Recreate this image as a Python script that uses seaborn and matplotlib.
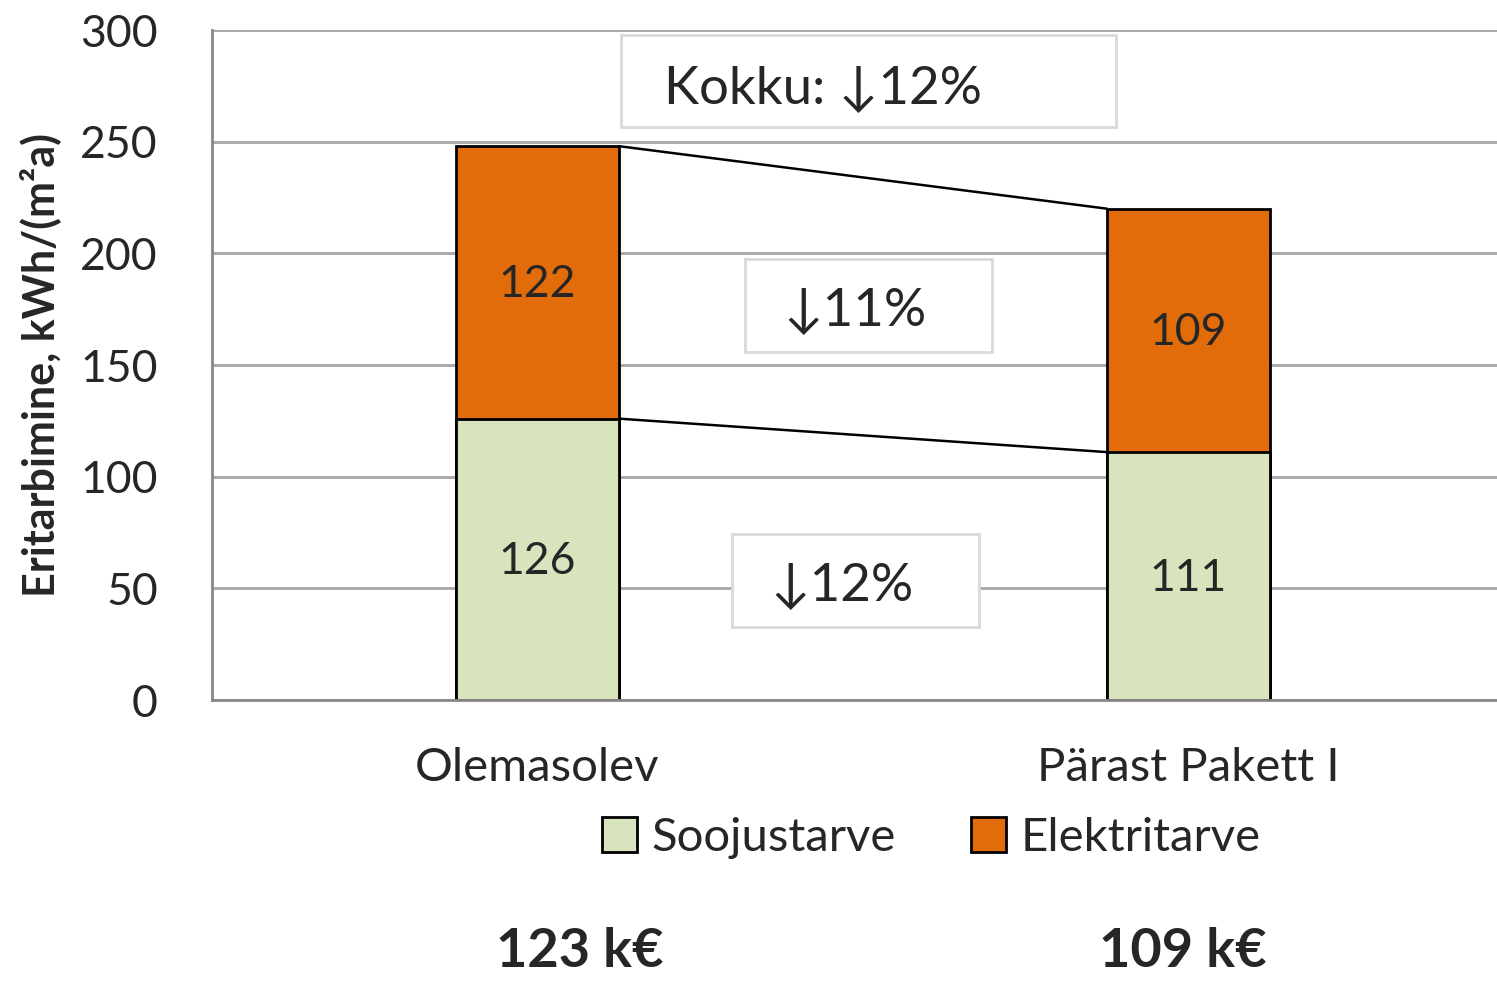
import matplotlib
matplotlib.use("Agg")
import matplotlib.pyplot as plt
from matplotlib.patches import Patch, Rectangle
import pandas as pd
import seaborn as sns

# --- datos ---
categorias = ["Olemasolev", "Pärast Pakett I"]
soojus = [126, 111]
elekter = [122, 109]
kulud = ["123 k€", "109 k€"]
muutus_kokku = "Kokku: ↓12%"
muutus_elekter = "↓11%"
muutus_soojus = "↓12%"

roheline = "#d7e4bd"
oranz = "#e36c0a"

sns.set_theme(style="white")
plt.rcParams["font.family"] = ["Lato", "DejaVu Sans"]

df = pd.DataFrame({"kat": categorias, "soojus": soojus, "elekter": elekter})
df["kokku"] = df["soojus"] + df["elekter"]

fig = plt.figure(figsize=(14.97, 9.81), dpi=100)
ax = fig.add_axes([0.1416, 0.2864, 0.8584, 0.683])

w = 0.25
sns.barplot(data=df, x="kat", y="kokku", color=oranz, width=w, saturation=1,
            edgecolor="black", linewidth=2, ax=ax)
sns.barplot(data=df, x="kat", y="soojus", color=roheline, width=w, saturation=1,
            edgecolor="black", linewidth=2, ax=ax)

# ühendusjooned
ax.plot([w / 2, 1 - w / 2], [df["kokku"][0], df["kokku"][1]], color="black", lw=1.8, zorder=3)
ax.plot([w / 2, 1 - w / 2], [df["soojus"][0], df["soojus"][1]], color="black", lw=1.8, zorder=3)

# väärtused ribade sees
for i in range(len(df)):
    ax.text(i, df["soojus"][i] / 2 - 1, str(df["soojus"][i]), ha="center", va="center", fontsize=32)
    ax.text(i, df["soojus"][i] + df["elekter"][i] / 2 - 1, str(df["elekter"][i]),
            ha="center", va="center", fontsize=32)

# muutuste kastid
kastid = [
    (0.129, 256.6, 0.759, 41.2, 0.438, 273.5, muutus_kokku),
    (0.3195, 155.8, 0.3795, 41.7, 0.487, 174, muutus_elekter),
    (0.2995, 32.7, 0.3795, 41.6, 0.467, 51, muutus_soojus),
]
for x0, y0, bw, bh, tx, ty, t in kastid:
    ax.add_patch(Rectangle((x0, y0), bw, bh, fc="white", ec="#d9d9d9", lw=2, zorder=4))
    ax.text(tx, ty, t, ha="center", va="center", fontsize=38, zorder=5)

ax.set_ylim(0, 300)
ax.set_xlim(-0.5, 1.474)
ax.set_yticks(range(0, 301, 50))
ax.yaxis.grid(True, color="#a6a6a6", lw=2)
ax.set_axisbelow(True)
for s in ["top", "right"]:
    ax.spines[s].set_visible(False)
ax.spines["left"].set_color("#888888")
ax.spines["bottom"].set_color("#888888")
ax.spines["left"].set_linewidth(2)
ax.spines["bottom"].set_linewidth(2)
ax.tick_params(axis="y", length=17, width=2, color="#888888", labelsize=32, pad=22)
ax.tick_params(axis="x", length=0, labelsize=34, pad=34)
ax.set_xlabel("")
ax.set_ylabel("Eritarbimine, kWh/(m²a)", fontsize=31, fontweight="bold", labelpad=14)

fig.legend(handles=[Patch(fc=roheline, ec="black", lw=2, label="Soojustarve"),
                    Patch(fc=oranz, ec="black", lw=2, label="Elektritarve")],
           loc="center", bbox_to_anchor=(0.622, 0.146), ncol=2, frameon=False,
           fontsize=34, handlelength=0.75, handleheight=0.75, handletextpad=0.3, columnspacing=1.6)

for i, t in enumerate(kulud):
    fig.text([0.387, 0.79][i], 0.03, t, ha="center", va="center", fontsize=39, fontweight="bold")

fig.savefig("out.png", dpi=100)
